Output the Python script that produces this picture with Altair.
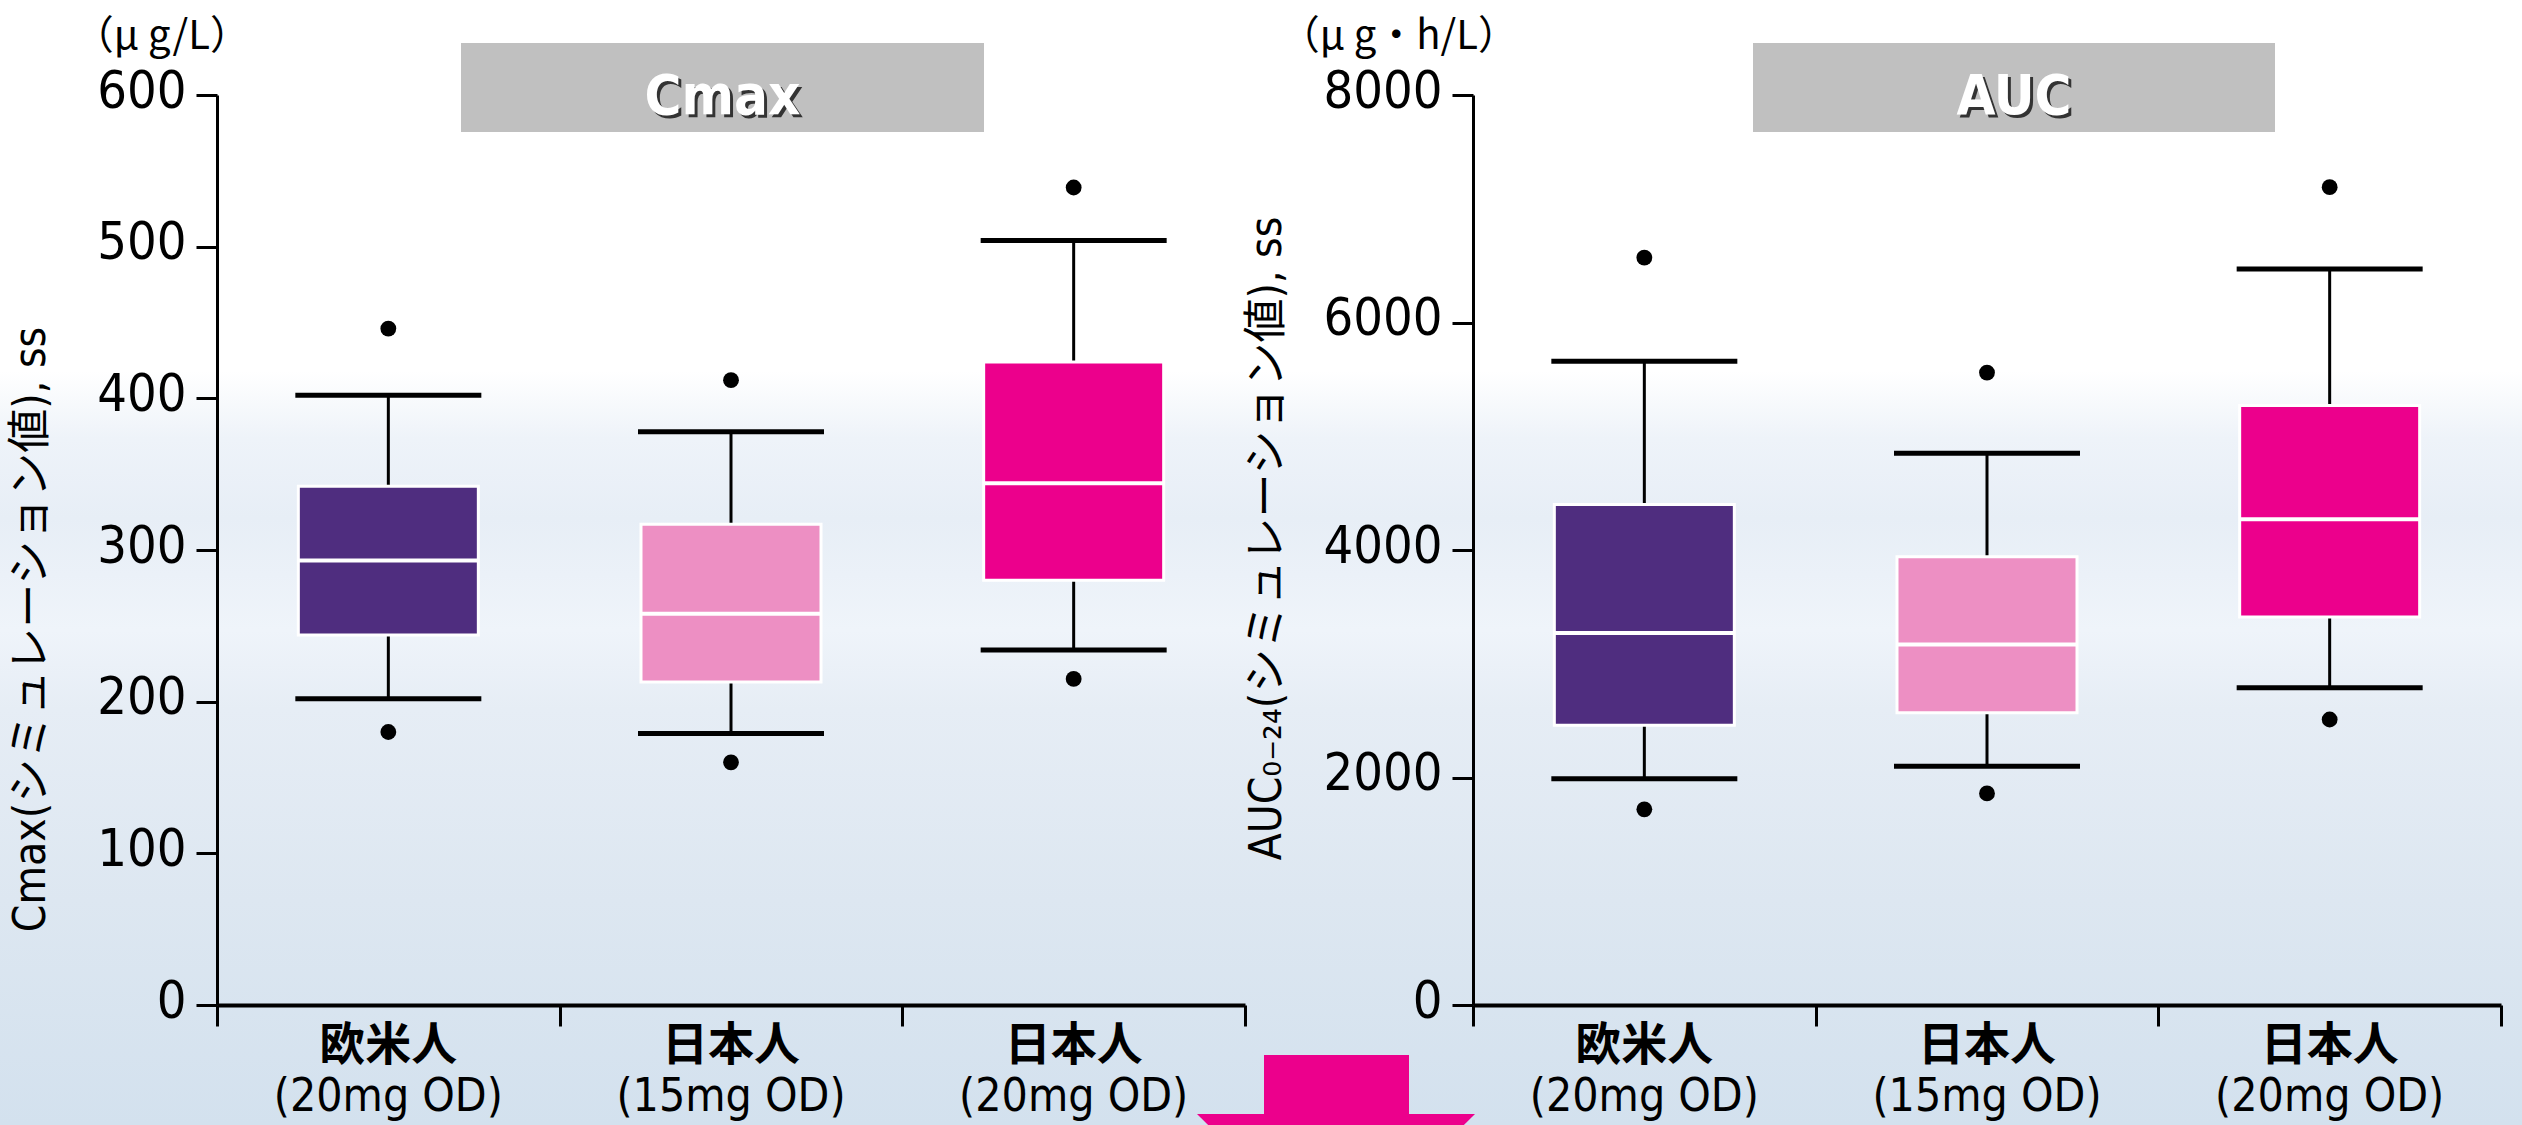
import altair as alt
import pandas as pd

# Groups on the x axis (unique keys plus the two label lines)
keys = ["欧米人(20mg OD)", "日本人(15mg OD)", "日本人(20mg OD)"]
group_names = ["欧米人", "日本人", "日本人"]
dose_labels = ["(20mg OD)", "(15mg OD)", "(20mg OD)"]
box_colors = ["#4f2d7f", "#ed8fc3", "#ec008c"]

# Cmax (μg/L), simulated steady state: box-plot summaries per group
cmax_low_out = [180, 160, 215]
cmax_low = [202, 179, 234]
cmax_q1 = [244, 213, 280]
cmax_median = [293, 258, 344]
cmax_q3 = [342, 317, 424]
cmax_high = [402, 378, 504]
cmax_high_out = [446, 412, 539]

# AUC0-24 (μg·h/L), simulated steady state
auc_low_out = [1720, 1860, 2510]
auc_low = [1990, 2100, 2790]
auc_q1 = [2460, 2570, 3410]
auc_median = [3270, 3170, 4270]
auc_q3 = [4400, 3940, 5270]
auc_high = [5660, 4850, 6470]
auc_high_out = [6570, 5560, 7190]

cmax_ticks = [0, 100, 200, 300, 400, 500, 600]
auc_ticks = [0, 2000, 4000, 6000, 8000]

W, H = 1028, 910
LATIN = "Liberation Sans Narrow, DejaVu Sans Condensed, Liberation Sans, Noto Sans CJK JP"
CJK = "Noto Sans CJK JP"

bg_gradient = alt.Gradient(
    gradient="linear",
    x1=0, x2=0, y1=0, y2=1,
    stops=[
        alt.GradientStop(color="#ffffff", offset=0.0),
        alt.GradientStop(color="#ffffff", offset=0.33),
        alt.GradientStop(color="#eef3f9", offset=0.39),
        alt.GradientStop(color="#e7eef6", offset=0.46),
        alt.GradientStop(color="#eff4fa", offset=0.56),
        alt.GradientStop(color="#e6edf5", offset=0.63),
        alt.GradientStop(color="#dde7f1", offset=0.80),
        alt.GradientStop(color="#d3e1ee", offset=1.0),
    ],
)


def panel(stats, ticks, ymax, y_title, title_size, title_x, title_y, units, units_x,
          header, header_x0, header_x1, bg_x0, bg_x1, arrow=False):
    lo_out, lo, q1, med, q3, hi, hi_out = stats
    df = pd.DataFrame({
        "key": keys, "name": group_names, "dose": dose_labels,
        "lo_out": lo_out, "lo": lo, "q1": q1, "med": med,
        "q3": q3, "hi": hi, "hi_out": hi_out,
    })

    x = alt.X(
        "key:N", sort=keys, title=None,
        scale=alt.Scale(paddingInner=0, paddingOuter=0),
        axis=alt.Axis(labels=False, tickBand="extent", tickSize=21, tickWidth=3,
                      tickColor="black", domainColor="black", domainWidth=4,
                      grid=False, zindex=1),
    )
    yscale = alt.Scale(domain=[0, ymax], nice=False, zero=True)
    yaxis = alt.Axis(
        values=ticks, format="d", grid=False, tickSize=21, tickWidth=3, tickColor="black",
        domainColor="black", domainWidth=3, labelFont=LATIN, labelFontSize=52,
        labelColor="black", labelPadding=10, labelOffset=-4, zindex=1,
        title=y_title, titleFont=LATIN, titleFontSize=title_size, titleFontWeight="normal",
        titleColor="black", titleAngle=270, titleX=title_x, titleY=title_y,
        titleAlign="center", titleBaseline="middle",
    )

    def y(field):
        return alt.Y(f"{field}:Q", scale=yscale, axis=yaxis)

    color = alt.Color("key:N", scale=alt.Scale(domain=keys, range=box_colors), legend=None)
    base = alt.Chart(df)
    one = alt.Chart(pd.DataFrame({"k": [0]}))

    background = one.mark_rect(fill=bg_gradient, strokeWidth=0).encode(
        x=alt.value(bg_x0), x2=alt.value(bg_x1),
        y=alt.value(-95), y2=alt.value(1125 - 95),
    )
    header_box = one.mark_rect(color="#c0c0c0").encode(
        x=alt.value(header_x0), x2=alt.value(header_x1),
        y=alt.value(-52), y2=alt.value(37),
    )
    hx = (header_x0 + header_x1) / 2
    header_shadow = one.mark_text(
        font=LATIN, fontSize=56, fontWeight="bold", color="#333333",
        align="center", baseline="alphabetic",
    ).encode(x=alt.value(hx + 3), y=alt.value(22), text=alt.value(header))
    header_text = one.mark_text(
        font=LATIN, fontSize=56, fontWeight="bold", color="white",
        align="center", baseline="alphabetic",
    ).encode(x=alt.value(hx), y=alt.value(19), text=alt.value(header))
    units_text = one.mark_text(
        font=CJK, fontSize=40, color="black", align="right", baseline="middle",
    ).encode(x=alt.value(units_x), y=alt.value(-58), text=alt.value(units))

    whisk_low = base.mark_rule(color="black", strokeWidth=3).encode(x=x, y=y("lo"), y2="q1:Q")
    whisk_high = base.mark_rule(color="black", strokeWidth=3).encode(x=x, y=y("q3"), y2="hi:Q")
    cap_low = base.mark_tick(color="black", thickness=5, size=186, opacity=1).encode(x=x, y=y("lo"))
    cap_high = base.mark_tick(color="black", thickness=5, size=186, opacity=1).encode(x=x, y=y("hi"))
    box = base.mark_bar(size=180, stroke="white", strokeWidth=3, opacity=1).encode(
        x=x, y=y("q1"), y2="q3:Q", color=color)
    median = base.mark_tick(color="white", thickness=4, size=181, opacity=1).encode(x=x, y=y("med"))
    out_low = base.mark_circle(color="black", size=250, opacity=1).encode(x=x, y=y("lo_out"))
    out_high = base.mark_circle(color="black", size=250, opacity=1).encode(x=x, y=y("hi_out"))

    name_text = base.mark_text(
        font=CJK, fontSize=46, fontWeight="bold", color="black", baseline="middle",
    ).encode(x=x, y=alt.value(H + 41), text="name:N")
    dose_text = base.mark_text(
        font=LATIN, fontSize=46, color="black", baseline="middle",
    ).encode(x=x, y=alt.value(H + 92), text="dose:N")

    layers = [background, header_box, header_shadow, header_text, units_text,
              whisk_low, whisk_high, cap_low, cap_high, box, median,
              out_low, out_high, name_text, dose_text]

    if arrow:
        arrow_stem = one.mark_rect(color="#ec008c").encode(
            x=alt.value(-209), x2=alt.value(-64),
            y=alt.value(960), y2=alt.value(1030),
        )
        arrow_head = one.mark_point(
            shape="M-1,0L1,0L0.92,0.08L-0.92,0.08Z", filled=True,
            color="#ec008c", opacity=1, size=278 * 278, strokeWidth=0,
        ).encode(x=alt.value(-137), y=alt.value(1019))
        layers += [arrow_stem, arrow_head]

    return alt.layer(*layers).properties(width=W, height=H)


left = panel(
    (cmax_low_out, cmax_low, cmax_q1, cmax_median, cmax_q3, cmax_high, cmax_high_out),
    cmax_ticks, 600, "Cmax(シミュレーション値), ss", 44, -186, 534,
    "（μ g/L）", 33, "Cmax", 244, 767, -217, 1042,
)
right = panel(
    (auc_low_out, auc_low, auc_q1, auc_median, auc_q3, auc_high, auc_high_out),
    auc_ticks, 8000, "AUC₀₋₂₄(シミュレーション値), ss", 44, -206, 443,
    "（μ g・h/L）", 45, "AUC", 280, 802, -225, 1049, arrow=True,
)

chart = (
    alt.hconcat(left, right, spacing=228, bounds="flush")
    .properties(padding=0, background="white")
    .configure_view(strokeWidth=0)
)

chart.save("out.html", embed_options={"renderer": "svg", "actions": False})
